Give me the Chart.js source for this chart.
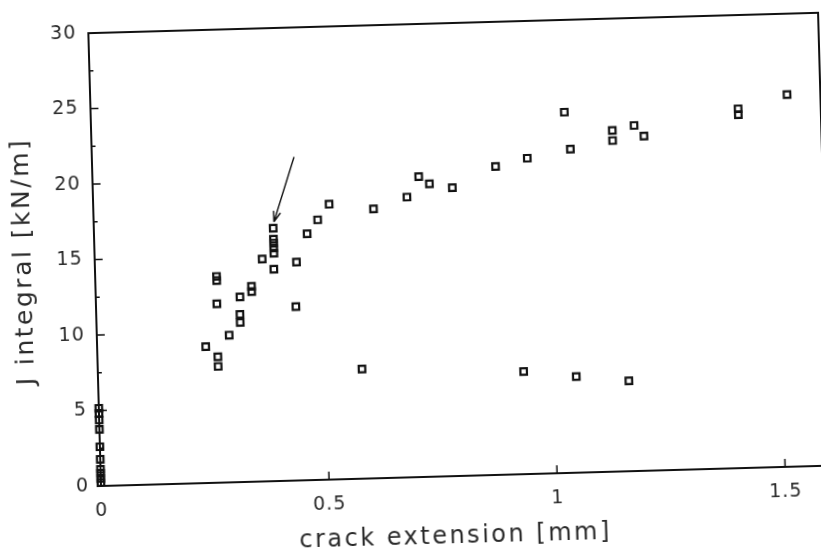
<!DOCTYPE html>
<html><head><meta charset="utf-8">
<script src="https://cdn.jsdelivr.net/npm/chart.js@4.4.1/dist/chart.umd.min.js"></script>
<style>
html,body{margin:0;padding:0;background:#fff;overflow:hidden;width:821px;height:557px;}
#wrap{position:absolute;left:0;top:0;width:821px;height:557px;overflow:hidden;background:#fff;}
#c{position:absolute;left:0;top:0;transform:rotate(-1.6deg);transform-origin:101px 486px;}
</style></head><body><div id="wrap"><canvas id="c" width="840" height="570"></canvas></div>
<script>
// crack extension [mm]
const crackExt = [
  0,0,0,0,0,0,0,0,0,0,
  0.238,0.264,0.264,0.265,0.266,0.266,0.290,0.316,0.315,0.315,
  0.342,0.342,0.367,0.393,0.393,0.393,0.393,0.393,0.392,0.442,
  0.438,0.467,0.491,0.517,0.579,0.614,0.688,0.715,0.738,0.788,
  0.884,0.954,1.038,1.049,1.142,1.142,1.190,1.211,1.419,1.419,
  1.527,0.933,1.048,1.163
];
// J integral [kN/m]
const jIntegral = [
  5.15,4.81,4.37,3.75,2.60,1.77,1.11,0.84,0.51,0.22,
  9.03,8.34,7.70,11.84,13.66,13.38,9.75,12.26,11.10,10.57,
  12.94,12.59,14.73,16.75,16.02,15.76,15.43,15.09,14.03,14.46,
  11.52,16.32,17.22,18.23,7.26,17.84,18.56,19.89,19.39,19.10,
  20.42,20.91,23.89,21.43,22.59,21.92,22.88,22.16,23.79,23.40,
  24.65,6.79,6.36,5.98
];
const xTickValues = [0, 0.5, 1, 1.5];
const xTickLabels = ['0', '0.5', '1', '1.5'];
const yTickValues = [0, 5, 10, 15, 20, 25, 30];
const yMinorTicks = [2.5, 7.5, 12.5, 17.5, 22.5, 27.5];
const xTitle = 'crack extension [mm]';
const yTitle = 'J integral [kN/m]';
// arrow annotation: tail then tip, in data units
const arrowX = [0.443, 0.395];
const arrowY = [21.43, 17.17];

const INK = '#111';
const TXT = '#2a2a2a';
const FAM = "'DejaVu Sans ExtraLight', 'DejaVu Sans'";

const framePlugin = {
  id: 'frame',
  beforeDraw(chart) {
    chart.ctx.letterSpacing = '1px';
  },
  afterDraw(chart) {
    const {ctx, chartArea: a, scales: {x, y}} = chart;
    ctx.save();
    ctx.strokeStyle = INK;
    ctx.lineWidth = 2;
    ctx.strokeRect(a.left, a.top, a.right - a.left, a.bottom - a.top);
    ctx.lineWidth = 1.5;
    ctx.beginPath();
    yTickValues.forEach(v => {
      const py = y.getPixelForValue(v);
      ctx.moveTo(a.left, py); ctx.lineTo(a.left + 8, py);
    });
    yMinorTicks.forEach(v => {
      const py = y.getPixelForValue(v);
      ctx.moveTo(a.left, py); ctx.lineTo(a.left + 4, py);
    });
    xTickValues.forEach(v => {
      if (v === 0) return;
      const px = x.getPixelForValue(v);
      ctx.moveTo(px, a.bottom); ctx.lineTo(px, a.bottom - 8);
    });
    ctx.stroke();
    // arrow
    const x0 = x.getPixelForValue(arrowX[0]), y0 = y.getPixelForValue(arrowY[0]);
    const x1 = x.getPixelForValue(arrowX[1]), y1 = y.getPixelForValue(arrowY[1]);
    const ang = Math.atan2(y1 - y0, x1 - x0);
    ctx.lineWidth = 1.4;
    ctx.beginPath();
    ctx.moveTo(x0, y0); ctx.lineTo(x1, y1);
    const L = 11, s = 0.33;
    ctx.moveTo(x1, y1); ctx.lineTo(x1 - L * Math.cos(ang - s), y1 - L * Math.sin(ang - s));
    ctx.moveTo(x1, y1); ctx.lineTo(x1 - L * Math.cos(ang + s), y1 - L * Math.sin(ang + s));
    ctx.stroke();
    // axis titles
    ctx.fillStyle = TXT;
    ctx.font = '24px ' + FAM;
    ctx.letterSpacing = '2.5px';
    ctx.textAlign = 'center';
    ctx.textBaseline = 'middle';
    ctx.fillText(xTitle, a.left + 353, a.bottom + 61);
    ctx.font = '25px ' + FAM;
    ctx.translate(30, (a.top + a.bottom) / 2);
    ctx.rotate(-Math.PI / 2);
    ctx.fillText(yTitle, 0, 0);
    ctx.restore();
  }
};

const points = crackExt.map((v, i) => ({x: v, y: jIntegral[i]}));

new Chart(document.getElementById('c'), {
  type: 'scatter',
  data: {
    datasets: [{
      data: points,
      clip: false,
      pointStyle: 'rect',
      pointRadius: 4.6,
      pointBorderWidth: 2.2,
      pointBorderColor: INK,
      pointBackgroundColor: 'rgba(0,0,0,0)',
      showLine: false
    }]
  },
  options: {
    responsive: false,
    devicePixelRatio: 1,
    animation: false,
    layout: {padding: {top: 33, right: 9, left: 0, bottom: 0}},
    plugins: {legend: {display: false}, tooltip: {enabled: false}},
    scales: {
      x: {
        type: 'linear', min: 0, max: 1.6,
        grid: {display: false, drawTicks: false},
        border: {display: false},
        afterBuildTicks: s => { s.ticks = xTickValues.map(v => ({value: v})); },
        afterFit: s => { s.height = 84; },
        ticks: {
          padding: 14, color: TXT, maxRotation: 0,
          font: {family: FAM, size: 19},
          callback: (v) => { const i = xTickValues.indexOf(v); return i >= 0 ? xTickLabels[i] : ''; }
        }
      },
      y: {
        type: 'linear', min: 0, max: 30,
        grid: {display: false, drawTicks: false},
        border: {display: false},
        afterBuildTicks: s => { s.ticks = yTickValues.map(v => ({value: v})); },
        afterFit: s => { s.width = 101; },
        ticks: {
          padding: 12, color: TXT,
          font: {family: FAM, size: 19},
          callback: v => String(v)
        }
      }
    }
  },
  plugins: [framePlugin]
});
</script></body></html>
